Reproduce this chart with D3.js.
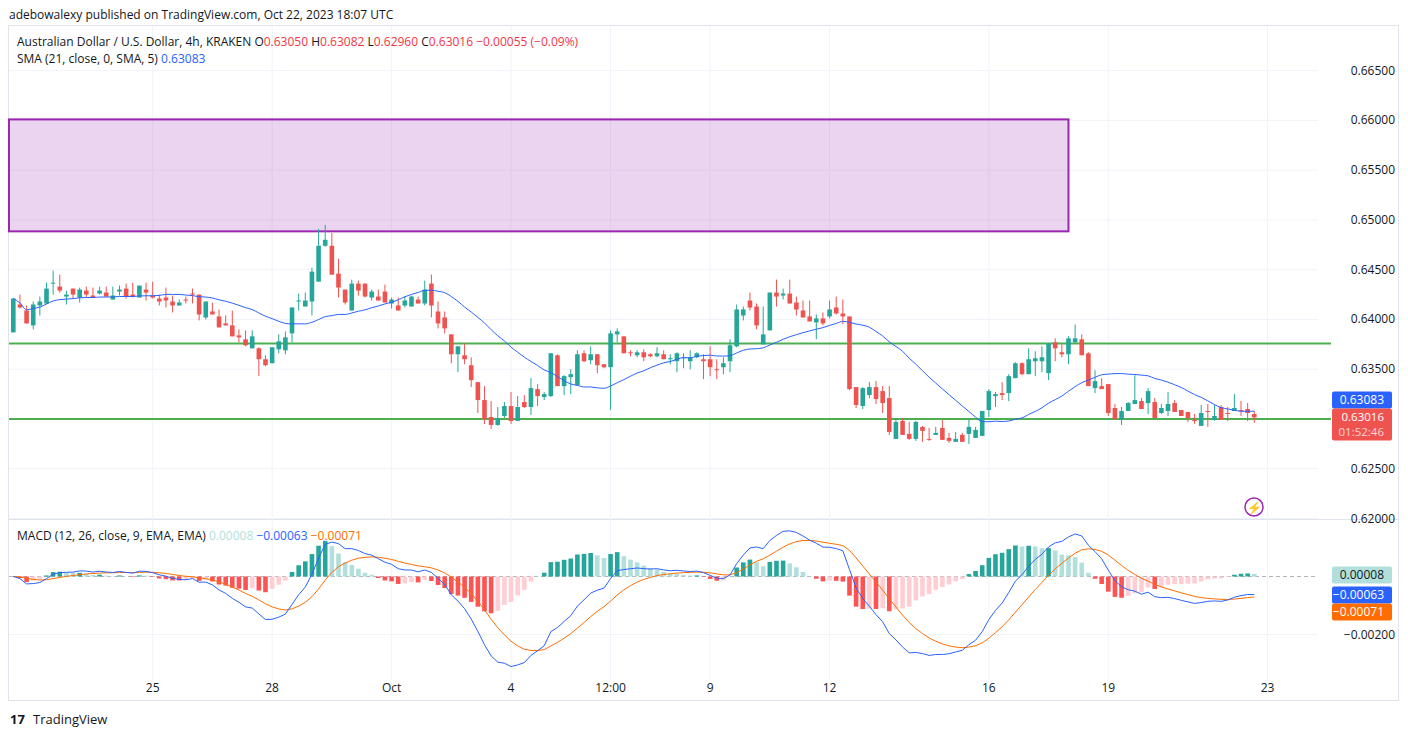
<!DOCTYPE html>
<html>
<head>
<meta charset="utf-8">
<script src="https://cdn.jsdelivr.net/npm/d3@7"></script>
<style>
  body { margin: 0; background: #fff; font-family: "Open Sans", "Noto Sans", sans-serif; }
  svg text { font-family: "Open Sans", "Noto Sans", sans-serif; }
</style>
</head>
<body>
<svg id="chart" width="1408" height="737"></svg>
<script>
// 4h candles, first bar Sep 21 2023 12:00 UTC
var startTime = Date.UTC(2023, 8, 21, 12);
var opens = [0.6387,0.6415,0.6409,0.6394,0.6414,0.6416,0.6436,0.6433,0.6423,0.6431,0.6422,0.6429,0.6424,0.6426,0.6427,0.6420,0.6428,0.6431,0.6425,0.6422,
0.6430,0.6424,0.6421,0.6422,0.6418,0.6414,0.6420,0.6426,0.6425,0.6402,0.6408,0.6403,0.6396,0.6394,0.6384,0.6380,0.6371,0.6371,0.6360,0.6356,
0.6370,0.6369,0.6386,0.6418,0.6413,0.6418,0.6438,0.6474,0.6474,0.6446,0.6430,0.6409,0.6436,0.6436,0.6422,0.6423,0.6428,0.6416,0.6414,0.6414,
0.6413,0.6420,0.6416,0.6436,0.6408,0.6402,0.6385,0.6365,0.6364,0.6354,0.6337,0.6319,0.6302,0.6294,0.6303,0.6313,0.6298,0.6317,0.6312,0.6330,
0.6322,0.6323,0.6364,0.6333,0.6342,0.6334,0.6366,0.6359,0.6365,0.6355,0.6352,0.6385,0.6383,0.6367,0.6364,0.6367,0.6365,0.6363,0.6365,0.6360,
0.6358,0.6361,0.6358,0.6362,0.6360,0.6360,0.6350,0.6352,0.6358,0.6373,0.6404,0.6419,0.6413,0.6375,0.6389,0.6427,0.6424,0.6426,0.6417,0.6409,
0.6403,0.6397,0.6401,0.6403,0.6412,0.6406,0.6403,0.6332,0.6313,0.6324,0.6332,0.6328,0.6321,0.6280,0.6298,0.6285,0.6280,0.6292,0.6280,0.6284,
0.6291,0.6281,0.6277,0.6284,0.6285,0.6281,0.6283,0.6309,0.6323,0.6326,0.6326,0.6341,0.6356,0.6345,0.6358,0.6358,0.6346,0.6377,0.6367,0.6365,
0.6377,0.6380,0.6366,0.6331,0.6333,0.6335,0.6311,0.6299,0.6308,0.6315,0.6318,0.6316,0.6317,0.6306,0.6308,0.6316,0.6309,0.6307,0.6299,0.6293,
0.6308,0.6299,0.6312,0.6306,0.6308,0.6309,0.6310,0.63050];
var highs = [0.6421,0.6425,0.6414,0.6418,0.6423,0.6437,0.6449,0.6445,0.6429,0.6431,0.6432,0.6433,0.6432,0.6433,0.6433,0.6433,0.6434,0.6436,0.6437,0.6434,
0.6437,0.6438,0.6425,0.6432,0.6424,0.6420,0.6423,0.6431,0.6425,0.6418,0.6417,0.6410,0.6404,0.6409,0.6390,0.6389,0.6389,0.6372,0.6364,0.6372,
0.6385,0.6388,0.6412,0.6426,0.6427,0.6452,0.6491,0.6495,0.6487,0.6461,0.6430,0.6440,0.6439,0.6436,0.6430,0.6430,0.6435,0.6422,0.6422,0.6423,
0.6424,0.6423,0.6439,0.6445,0.6418,0.6408,0.6385,0.6373,0.6376,0.6362,0.6337,0.6333,0.6318,0.6312,0.6317,0.6327,0.6323,0.6324,0.6341,0.6335,
0.6327,0.6366,0.6365,0.6344,0.6350,0.6369,0.6369,0.6373,0.6365,0.6355,0.6389,0.6391,0.6383,0.6369,0.6369,0.6370,0.6366,0.6372,0.6369,0.6365,
0.6367,0.6366,0.6369,0.6367,0.6365,0.6373,0.6360,0.6362,0.6380,0.6415,0.6413,0.6427,0.6416,0.6413,0.6427,0.6440,0.6431,0.6440,0.6423,0.6419,
0.6419,0.6405,0.6407,0.6419,0.6423,0.6420,0.6403,0.6332,0.6332,0.6337,0.6338,0.6333,0.6333,0.6301,0.6301,0.6297,0.6298,0.6293,0.6291,0.6292,
0.6299,0.6286,0.6287,0.6286,0.6300,0.6292,0.6308,0.6330,0.6327,0.6337,0.6345,0.6357,0.6357,0.6371,0.6368,0.6373,0.6376,0.6381,0.6375,0.6383,
0.6395,0.6385,0.6367,0.6349,0.6341,0.6335,0.6315,0.6312,0.6317,0.6344,0.6321,0.6331,0.6321,0.6315,0.6327,0.6319,0.6309,0.6307,0.6305,0.6314,
0.6315,0.6314,0.6314,0.6312,0.6325,0.6318,0.6316,0.63082];
var lows = [0.6387,0.6411,0.6396,0.6390,0.6404,0.6416,0.6425,0.6427,0.6415,0.6421,0.6417,0.6422,0.6422,0.6425,0.6423,0.6420,0.6424,0.6421,0.6422,0.6422,
0.6419,0.6421,0.6414,0.6412,0.6407,0.6414,0.6416,0.6416,0.6399,0.6400,0.6405,0.6392,0.6394,0.6383,0.6377,0.6373,0.6371,0.6343,0.6353,0.6356,
0.6366,0.6365,0.6377,0.6409,0.6413,0.6404,0.6438,0.6473,0.6445,0.6422,0.6415,0.6409,0.6424,0.6422,0.6419,0.6419,0.6417,0.6411,0.6409,0.6412,
0.6413,0.6416,0.6414,0.6402,0.6391,0.6386,0.6356,0.6347,0.6355,0.6332,0.6306,0.6295,0.6290,0.6293,0.6301,0.6295,0.6298,0.6311,0.6304,0.6313,
0.6319,0.6322,0.6333,0.6324,0.6325,0.6334,0.6357,0.6355,0.6346,0.6351,0.6309,0.6377,0.6366,0.6363,0.6362,0.6358,0.6362,0.6362,0.6360,0.6355,
0.6347,0.6351,0.6350,0.6361,0.6340,0.6343,0.6340,0.6345,0.6347,0.6372,0.6399,0.6409,0.6390,0.6375,0.6389,0.6413,0.6420,0.6416,0.6404,0.6402,
0.6398,0.6380,0.6394,0.6401,0.6405,0.6395,0.6329,0.6311,0.6310,0.6321,0.6315,0.6306,0.6284,0.6280,0.6284,0.6279,0.6278,0.6277,0.6278,0.6284,
0.6279,0.6276,0.6277,0.6277,0.6275,0.6281,0.6283,0.6302,0.6312,0.6319,0.6318,0.6341,0.6344,0.6345,0.6343,0.6347,0.6339,0.6358,0.6362,0.6355,
0.6376,0.6364,0.6333,0.6326,0.6330,0.6303,0.6299,0.6294,0.6308,0.6315,0.6310,0.6305,0.6301,0.6305,0.6303,0.6307,0.6303,0.6297,0.6295,0.6293,
0.6292,0.6298,0.6299,0.6298,0.6308,0.6303,0.6298,0.62960];
var closes = [0.6421,0.6412,0.6396,0.6415,0.6418,0.6431,0.6437,0.6429,0.6425,0.6425,0.6430,0.6425,0.6422,0.6429,0.6423,0.6424,0.6430,0.6423,0.6423,0.6434,
0.6427,0.6422,0.6418,0.6419,0.6414,0.6417,0.6419,0.6425,0.6405,0.6418,0.6405,0.6392,0.6394,0.6383,0.6382,0.6374,0.6383,0.6360,0.6354,0.6372,
0.6378,0.6382,0.6412,0.6419,0.6419,0.6448,0.6474,0.6480,0.6445,0.6432,0.6417,0.6436,0.6429,0.6423,0.6428,0.6419,0.6417,0.6420,0.6409,0.6419,
0.6423,0.6416,0.6430,0.6414,0.6396,0.6391,0.6365,0.6373,0.6360,0.6339,0.6319,0.6300,0.6294,0.6301,0.6313,0.6298,0.6312,0.6312,0.6331,0.6323,
0.6325,0.6366,0.6333,0.6343,0.6345,0.6365,0.6358,0.6365,0.6354,0.6352,0.6386,0.6388,0.6366,0.6366,0.6367,0.6362,0.6363,0.6366,0.6360,0.6361,
0.6366,0.6362,0.6362,0.6366,0.6358,0.6352,0.6349,0.6356,0.6374,0.6410,0.6410,0.6412,0.6394,0.6385,0.6427,0.6423,0.6426,0.6416,0.6410,0.6402,
0.6398,0.6401,0.6396,0.6410,0.6406,0.6403,0.6330,0.6314,0.6331,0.6332,0.6320,0.6316,0.6287,0.6297,0.6284,0.6280,0.6297,0.6288,0.6279,0.6286,
0.6279,0.6278,0.6280,0.6277,0.6292,0.6289,0.6308,0.6328,0.6325,0.6324,0.6343,0.6356,0.6345,0.6360,0.6361,0.6362,0.6376,0.6371,0.6365,0.6381,
0.6381,0.6364,0.6333,0.6338,0.6330,0.6306,0.6300,0.6308,0.6316,0.6319,0.6310,0.6328,0.6301,0.6311,0.6315,0.6307,0.6303,0.6301,0.6298,0.6306,
0.6307,0.6303,0.6299,0.6305,0.6311,0.6308,0.6306,0.63016];

var priceTicks = [0.620, 0.625, 0.630, 0.635, 0.640, 0.645, 0.650, 0.655, 0.660, 0.665];
var hiddenPriceLabels = [0.630]; // covered by the last-value tags
var macdTicks = [-0.002];
var timeTicks = [
  [Date.UTC(2023, 8, 25), "25"], [Date.UTC(2023, 8, 28), "28"], [Date.UTC(2023, 9, 1), "Oct"],
  [Date.UTC(2023, 9, 4), "4"], [Date.UTC(2023, 9, 6, 12), "12:00"], [Date.UTC(2023, 9, 9), "9"],
  [Date.UTC(2023, 9, 12), "12"], [Date.UTC(2023, 9, 16), "16"], [Date.UTC(2023, 9, 19), "19"],
  [Date.UTC(2023, 9, 23), "23"]
];
var zoneTop = 0.6601, zoneBottom = 0.64885, zoneEnd = Date.UTC(2023, 9, 18, 0);
var resistance = 0.63758, support = 0.6300;

var H4 = 4 * 3600 * 1000;
var bars = closes.map(function (c, i) {
  return { t: startTime + i * H4, o: opens[i], h: highs[i], l: lows[i], c: c };
});

// SMA 21 (partial window at the start)
bars.forEach(function (b, i) {
  var s = closes.slice(Math.max(0, i - 20), i + 1);
  b.sma = d3.mean(s);
});
// MACD 12/26/9
function ema(vals, n) {
  var k = 2 / (n + 1), out = [], prev = vals[0];
  vals.forEach(function (v) { prev = v * k + prev * (1 - k); out.push(prev); });
  return out;
}
var e12 = ema(closes, 12), e26 = ema(closes, 26);
var macd = closes.map(function (d, i) { return e12[i] - e26[i]; });
var signal = ema(macd, 9);
bars.forEach(function (b, i) { b.macd = macd[i]; b.sig = signal[i]; b.hist = macd[i] - signal[i]; });

var svg = d3.select("#chart");
var plotL = 9, plotR = 1318, axisR = 1398;

var x = d3.scaleTime()
  .domain([startTime - 0.65 * H4, startTime + 196.6 * H4])
  .range([plotL, plotR]);
var y = d3.scaleLinear().domain([0.62, 0.665]).range([518.5, 70.6]);
var ym = d3.scaleLinear().domain([-0.002, 0]).range([634.5, 576.5]);
var barW = 4.6;

// frame
svg.append("rect").attr("x", 8.5).attr("y", 25.5).attr("width", 1390).attr("height", 675)
  .attr("fill", "none").attr("stroke", "#e0e3eb");
svg.append("line").attr("x1", 8).attr("x2", axisR).attr("y1", 519.5).attr("y2", 519.5).attr("stroke", "#e0e3eb");

// grid
svg.append("g").selectAll("line").data(priceTicks).join("line")
  .attr("x1", plotL).attr("x2", plotR).attr("y1", function (d) { return y(d); }).attr("y2", function (d) { return y(d); })
  .attr("stroke", "#f0f3fa");
svg.append("g").selectAll("line").data(timeTicks).join("line")
  .attr("x1", function (d) { return x(d[0]); }).attr("x2", function (d) { return x(d[0]); })
  .attr("y1", 26).attr("y2", 680).attr("stroke", "#f0f3fa");
svg.append("g").selectAll("line").data(macdTicks).join("line")
  .attr("x1", plotL).attr("x2", plotR).attr("y1", function (d) { return ym(d); }).attr("y2", function (d) { return ym(d); })
  .attr("stroke", "#f0f3fa");

// price axis labels
svg.append("g").selectAll("text")
  .data(priceTicks.filter(function (d) { return hiddenPriceLabels.indexOf(d) < 0; })).join("text")
  .attr("x", 1395).attr("y", function (d) { return y(d) + 4; }).attr("text-anchor", "end")
  .attr("font-size", 12).attr("fill", "#131722").text(function (d) { return d.toFixed(5); });
svg.append("g").selectAll("text").data(macdTicks).join("text")
  .attr("x", 1395).attr("y", function (d) { return ym(d) + 4; }).attr("text-anchor", "end")
  .attr("font-size", 12).attr("fill", "#131722").text(function (d) { return "\u2212" + Math.abs(d).toFixed(5); });
svg.append("g").selectAll("text").data(timeTicks).join("text")
  .attr("x", function (d) { return x(d[0]); }).attr("y", 692).attr("text-anchor", "middle")
  .attr("font-size", 12).attr("fill", "#131722").text(function (d) { return d[1]; });

// zone
svg.append("rect").attr("x", plotL).attr("y", y(zoneTop))
  .attr("width", x(zoneEnd) - plotL).attr("height", y(zoneBottom) - y(zoneTop))
  .attr("fill", "rgba(156,39,176,0.2)").attr("stroke", "#9c27b0").attr("stroke-width", 2);

// horizontal levels
[resistance, support].forEach(function (v) {
  svg.append("line").attr("x1", plotL).attr("x2", 1331).attr("y1", y(v)).attr("y2", y(v))
    .attr("stroke", "#4caf50").attr("stroke-width", 2);
});

// candles
var up = "#26a69a", dn = "#ef5350";
var cg = svg.append("g");
cg.selectAll("line").data(bars).join("line")
  .attr("x1", function (d) { return x(d.t); }).attr("x2", function (d) { return x(d.t); })
  .attr("y1", function (d) { return y(d.h); }).attr("y2", function (d) { return y(d.l); })
  .attr("stroke", function (d) { return d.c >= d.o ? up : dn; }).attr("stroke-width", 1);
cg.selectAll("rect").data(bars).join("rect")
  .attr("x", function (d) { return x(d.t) - barW / 2; })
  .attr("y", function (d) { return y(Math.max(d.o, d.c)); })
  .attr("width", barW)
  .attr("height", function (d) { return Math.max(1, Math.abs(y(d.o) - y(d.c))); })
  .attr("fill", function (d) { return d.c >= d.o ? up : dn; });

// SMA
svg.append("path").datum(bars)
  .attr("d", d3.line().x(function (d) { return x(d.t); }).y(function (d) { return y(d.sma); }).curve(d3.curveMonotoneX))
  .attr("fill", "none").attr("stroke", "#2962ff").attr("stroke-width", 1);

// MACD histogram
svg.append("line").attr("x1", plotL).attr("x2", plotR).attr("y1", ym(0)).attr("y2", ym(0))
  .attr("stroke", "#b2b5be").attr("stroke-dasharray", "4,3");
svg.append("g").selectAll("rect").data(bars).join("rect")
  .attr("x", function (d) { return x(d.t) - barW / 2; })
  .attr("width", barW)
  .attr("y", function (d) { return Math.min(ym(0), ym(d.hist)); })
  .attr("height", function (d) { return Math.abs(ym(d.hist) - ym(0)); })
  .attr("fill", function (d, i) {
    var prev = i > 0 ? bars[i - 1].hist : 0;
    if (d.hist >= 0) return d.hist >= prev ? "#26a69a" : "#b2dfdb";
    return d.hist < prev ? "#ff5252" : "#ffcdd2";
  });
svg.append("path").datum(bars)
  .attr("d", d3.line().x(function (d) { return x(d.t); }).y(function (d) { return ym(d.sig); }))
  .attr("fill", "none").attr("stroke", "#ff6d00").attr("stroke-width", 1);
svg.append("path").datum(bars)
  .attr("d", d3.line().x(function (d) { return x(d.t); }).y(function (d) { return ym(d.macd); }))
  .attr("fill", "none").attr("stroke", "#2962ff").attr("stroke-width", 1);

// right-side value labels
function tag(yc, h, fill, color, lines) {
  svg.append("rect").attr("x", 1332).attr("y", yc - h / 2).attr("width", 60).attr("height", h)
    .attr("rx", 2).attr("fill", fill);
  lines.forEach(function (t, i) {
    svg.append("text").attr("x", 1384).attr("y", yc - h / 2 + 12.5 + i * 15).attr("text-anchor", "end")
      .attr("font-size", lines.length > 1 ? 11.5 : 12)
      .attr("fill", i ? "rgba(255,255,255,0.75)" : color).text(t);
  });
}
tag(400, 17, "#2962ff", "#fff", ["0.63083"]);
tag(424.5, 32, "#ef5350", "#fff", ["0.63016", "01:52:46"]);
tag(575, 17, "#b2dfdb", "#131722", ["0.00008"]);
tag(595, 17, "#2962ff", "#fff", ["\u22120.00063"]);
tag(612, 17, "#ff6d00", "#fff", ["\u22120.00071"]);

// lightning icon
svg.append("circle").attr("cx", 1254).attr("cy", 507).attr("r", 9).attr("fill", "none")
  .attr("stroke", "#9c27b0").attr("stroke-width", 1.5);
svg.append("text").attr("x", 1254).attr("y", 512).attr("text-anchor", "middle")
  .attr("font-size", 12).attr("fill", "#9c27b0").text("\u26A1");

// header texts
svg.append("text").attr("x", 9).attr("y", 19).attr("font-size", 12).attr("fill", "#131722")
  .text("adebowalexy published on TradingView.com, Oct 22, 2023 18:07 UTC");
var t1 = svg.append("text").attr("x", 17).attr("y", 46).attr("font-size", 12).attr("fill", "#131722");
t1.append("tspan").text("Australian Dollar / U.S. Dollar, 4h, KRAKEN  O");
t1.append("tspan").attr("fill", "#f23645").text("0.63050");
t1.append("tspan").text("  H");
t1.append("tspan").attr("fill", "#f23645").text("0.63082");
t1.append("tspan").text("  L");
t1.append("tspan").attr("fill", "#f23645").text("0.62960");
t1.append("tspan").text("  C");
t1.append("tspan").attr("fill", "#f23645").text("0.63016  \u22120.00055 (\u22120.09%)");
var t2 = svg.append("text").attr("x", 17).attr("y", 63).attr("font-size", 12).attr("fill", "#131722");
t2.append("tspan").text("SMA (21, close, 0, SMA, 5)  ");
t2.append("tspan").attr("fill", "#2962ff").text("0.63083");
var t3 = svg.append("text").attr("x", 17).attr("y", 540).attr("font-size", 12).attr("fill", "#131722");
t3.append("tspan").text("MACD (12, 26, close, 9, EMA, EMA)  ");
t3.append("tspan").attr("fill", "#b2dfdb").text("0.00008");
t3.append("tspan").attr("fill", "#2962ff").text("  \u22120.00063");
t3.append("tspan").attr("fill", "#ff6d00").text("  \u22120.00071");

// footer
svg.append("text").attr("x", 10).attr("y", 724).attr("font-size", 13).attr("font-weight", "bold")
  .attr("fill", "#131722").text("17");
svg.append("text").attr("x", 33).attr("y", 724).attr("font-size", 13).attr("fill", "#131722").text("TradingView");
</script>
</body>
</html>
